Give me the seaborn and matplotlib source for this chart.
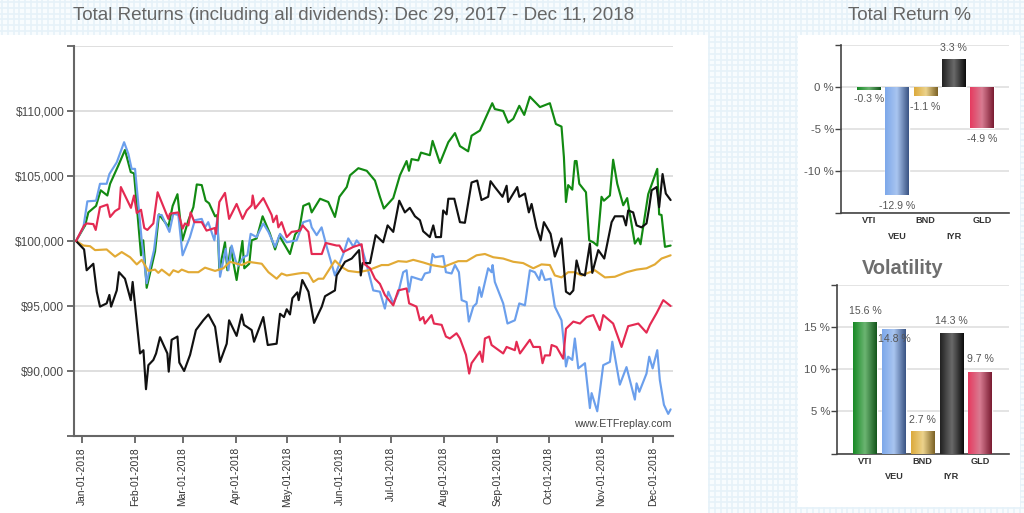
import numpy as np
import pandas as pd
import matplotlib
matplotlib.use('Agg')
import matplotlib.pyplot as plt
import matplotlib.dates as mdates
from matplotlib.colors import LinearSegmentedColormap
from matplotlib.patches import Rectangle
import seaborn as sns

# days since Jan 1 2018, values in $ thousands
vti_days = [-3.3,2,3.9,8.4,11.1,15,16.6,21.4,25.3,28.7,30.6,34.7,36,38,42.9,45.2,50.7,53.2,56,58.9,62.4,65.3,67.3,70.2,72.5,74.5,78,79.3,80.5,83.8,85.2,87.1,90.6,94,95.1,98,99.4,102.3,105.8,110,113.1,115.6,121.8,124.8,127.3,129.6,133,134.5,139.4,144.2,148.1,150.7,155,156.9,161.8,166.7,171.5,174.4,176.7,182.2,186.1,190,191.4,192.9,196.8,198.4,203.6,205.2,209.5,214.4,218.3,221.2,226,228,232.9,237.7,240.1,241.6,246.5,249.4,252.4,255.9,258.8,262.1,268,273.8,277.3,280.6,282,283.2,284.5,286.9,288.4,289.4,291,294.9,296.8,299.2,301.5,304,305.4,308.9,310.8,313.2,316.7,319,323.5,325.5,326.8,331.3,336.6,337.7,339.1,341.1,344.4]
vti_vals = [100,101.2,102.2,102.7,103.9,103.5,104.4,105.8,107,105.3,105.2,98.9,100.05,96.4,99.2,102.05,101.1,102.7,103.6,100.05,101.6,102.6,104.35,104.3,103.1,102.9,101.9,102,97.75,99.9,97.75,99.5,97,100,97.9,98.25,100.05,100.2,101.9,100.6,99.35,100.4,99,100.5,100.9,102.7,102.9,102.2,103.25,103,101.85,103.4,104.15,105.05,105.6,105.4,104.65,103.4,102.5,103.3,105.05,106.15,105.4,106.3,106.2,106.8,106.6,107.7,106,107.6,108.3,107.3,106.9,108.1,108.5,109.9,110.6,110.15,110,109.1,109.4,110.4,109.7,111.1,110.3,110.6,109,108.8,106.45,103,104.3,103.95,106.15,106.15,104.4,103.75,100.05,99.9,99.65,103.4,103.1,103.5,106.25,104.4,102.75,103.3,99.8,100.2,99.75,103.6,105.55,102.05,102,99.55,99.65]

veu_days = [-3.3,1,3.3,8.4,10.7,14.6,16.2,20.5,23,24.8,27.3,29.2,31.2,35.1,38,40,42.3,44.8,46.8,51.3,53.6,56.5,59,63.3,66.2,70.2,72.1,74,77.6,79.3,80.9,84.2,85.8,87.7,90,91.6,94.5,96.9,98.8,102.3,106.2,109.2,113.1,116,119.9,125.7,129.6,133.5,134.5,137.4,140.3,143.3,148.1,153,155.9,158.9,160.8,163.7,166.7,170.5,174.4,177.3,179.3,182.2,185.1,188,190,191.4,192.9,198.8,200.7,203.6,205.2,206.6,211.4,213,216.3,218.3,220.6,222.2,225.1,226.4,229,230.9,232.5,233.8,237.7,239.7,240.3,241.6,246.5,249,253.3,255.9,259.2,262.1,265,267.6,268.9,270.9,274.2,276.7,280.6,282,283.2,284.5,286.9,288.4,290.4,294.3,297.2,298.2,301.5,305,308.9,310.3,314.7,318.6,323.5,324.5,326.1,330.3,331.9,333.9,336.6,338.1,340.5,343,344.4]
veu_vals = [100,101.05,103.05,103.1,104.4,104.4,105.15,106.05,106.95,107.6,106.7,105.55,105.55,100.05,96.75,98,99.3,102,102,100.7,102.1,102,98.9,100.3,101.6,101.7,101.05,101.45,100.05,101.7,97.25,99.4,97.75,99.65,98.5,98.1,98.75,98.9,100.55,100.3,101.35,100.7,99.55,100.55,99.9,100.05,101.45,101.6,101.05,100.45,101.05,99.55,97.35,99,100.2,99.55,100.05,99.55,98.15,96.2,96.1,94.8,96.1,95.2,96,97.6,97.75,96.1,97.25,97,97.5,97.6,99,98.75,98.85,97.6,97.5,98.15,97.6,95.45,95.3,93.8,94.95,95.2,96.45,95.7,97.9,97.6,98.15,96.85,95.2,93.65,93.9,95.2,95.05,97.75,97.6,97,97.75,97,97.1,94.95,93.9,92.1,90.35,91.1,90.85,92.5,90.2,90.6,87.15,88.3,86.9,90.45,90.7,92.25,88.95,90.3,87.8,89.05,88.4,89.8,91.1,90.2,91.6,89.3,87.4,86.7,87.05]

bnd_days = [-3.3,1,4.9,7.8,14.6,19.5,23.4,28.3,32.2,35.1,39,42.9,44.8,46.8,51.3,53.6,56.5,58.5,62.4,68.2,72.1,78,82.8,86.7,93.6,97.5,105.3,109.2,114,116.9,119.9,126.7,129.6,132.6,135.5,138.4,141.3,148.1,152,155.9,161.8,167.6,175.4,179.3,185.1,190,193.9,199.7,204.6,211.4,220.2,225.1,230.9,235.8,240.7,246.5,252.4,258.2,264.1,268.9,273.8,276.7,280.6,284.5,288.4,292.3,300.1,306,311.8,318.6,324.5,330.3,335.2,339.1,344.4]
bnd_vals = [100,99.65,99.6,99.3,99.35,98.8,99.15,98.75,98.2,98.55,97.7,97.8,97.55,97.8,97.35,97.75,97.6,97.8,97.6,97.6,97.95,97.7,97.9,98.4,98.15,98.4,98.25,97.6,97.1,97.5,97.35,97.5,97.55,97.5,96.85,97.1,97.1,98.5,98,97.7,97.6,97.75,98.15,98.15,98.45,98.4,98.55,98.35,98.15,98,98.45,98.45,98.9,99,98.75,98.65,98.4,98.3,97.9,98.2,98.15,97.35,97.2,97.6,97.6,97.35,97.75,97.2,97.25,97.6,97.8,97.9,98.2,98.65,98.9]

iyr_days = [-3.3,1.4,2.9,6.8,8.8,10.7,14.6,16.2,17.2,20.5,21.8,25.3,28.7,29.8,34.1,36.1,37.6,39,41.9,43.5,45.8,50.1,50.9,52.6,56,57.1,59.9,63.4,66.8,71.1,74.1,78,80.9,84.8,86.2,90.6,93.6,94.9,99.4,100.8,106.2,108.8,114,116,118.3,119.9,121.8,123.2,126.1,126.9,129,132.6,135.9,140.4,142.3,148.1,149.1,154,157.9,162.2,163.2,164.3,168.6,171.9,176.3,178.9,182.2,185.7,189,191.9,194.9,197.8,199.7,203.6,205.6,207.1,210.1,211.4,213.4,214.4,217.9,221.2,224.1,228,231.3,233.8,237.7,239.1,241.6,246.1,248.5,249.4,252.4,254.7,255.9,259.2,261.5,263.1,266,268.4,270.3,274.2,276.7,280.6,283.2,285.5,287.5,289.4,291.4,294.3,297.2,298.6,302.1,305.6,309.9,311.8,316.7,318.3,319.6,322.5,324.5,327.4,330.3,331.9,333.3,336.2,337.7,339.7,341.6,344.4]
iyr_vals = [100,99.35,97.75,98.25,96.1,94.95,95.2,95.85,94.95,96.2,97.6,97.1,95.45,96.85,91.35,91.6,88.6,90.45,90.85,91.35,92.6,91.35,89.95,92.4,92.65,90.65,90,91.25,93.15,93.9,94.35,93.4,90.7,92.1,93.9,92.7,94.35,93.55,93.15,92.25,94.15,92,92.1,94.4,94.15,94.75,94.35,95.6,96.05,95.45,97,96.1,93.7,94.95,95.75,96.2,97.35,98.4,98.65,99.3,97.35,98.3,98.3,100.45,99.9,101.2,100.7,103.1,102.2,102.55,101.9,101.6,100.75,100.3,101.2,100.3,100.3,102.35,102.05,103.25,103.25,101.45,101.4,104.5,104.65,103.15,103.4,104.6,104.15,103.4,104.25,103,103.65,104.15,103.4,103.65,102.2,102.85,101.05,100.05,101.45,100.55,98.8,100.2,96.1,95.9,96.2,98.5,97.5,97.35,99.8,97.55,99.3,98.65,101.45,101.9,101.9,101.2,102.35,102.2,101.2,101.05,101.35,102.6,103.9,104.15,102.6,105.15,103.65,103.15]

gld_days = [-3.3,1.4,2.9,6.8,8.2,10.7,15,16.6,19.5,22,22.9,25.3,28.8,30.6,32.2,34.7,36.6,38.4,41.9,44.4,50.7,51.6,56.5,59,60.4,62.4,63.7,65.9,70.2,73,77.9,78.5,80.5,83.8,86.2,90.6,94.1,96.5,99.4,100,101.4,106.2,111.1,112,114,115,116.9,119.9,122.8,127.7,129.2,132.6,134.5,140.4,142.7,149.1,150.7,153,158.9,163.7,165.1,168.6,171.5,174.4,177.3,182.2,185.1,190,191.5,195.8,197.8,199.7,200.7,204.6,206,210.5,213,215.3,219.2,221.2,224.7,226.6,228,232.9,234.4,235.8,238.3,239.7,246.5,248.5,253.3,254.3,256.3,262.1,264.1,268,269.5,270.9,273.8,274.8,277.7,281.6,283.2,287.5,291.4,295.3,299.2,303,305,310.8,315.7,319.6,325.5,330.3,332.3,336.2,340.1,344.4]
gld_vals = [100,101.2,101.35,101.3,100.85,102.6,102.8,101.85,102.3,102.5,104.15,103.5,102.55,103.5,102.15,102.4,101,100.85,101.35,103.75,101.7,102.1,102.2,100.95,101.35,101.2,102.2,101.45,101.45,100.8,101,100.55,103,103.7,101.7,102.85,101.7,102.35,102.75,103.5,102.5,103.3,102,101.45,101.95,101.05,101.45,100.3,100.7,100.8,101.2,100.7,99,99,99.85,99.65,99.65,99.15,99.55,99.75,98.25,97.9,97.1,96.7,95.85,95.05,96.2,96.35,95.2,94.95,93.9,94.15,93.65,94.3,93.65,93.55,92.65,92.5,92.9,92.5,91.25,89.8,90.6,91.5,90.7,92.5,92.65,92,91.35,91.85,91.6,92.25,91.35,92.4,91.85,91.85,90.6,91.2,91.2,92,91.85,90.95,93.25,93.8,93.65,94.15,94.3,93.15,94.3,93.65,91.85,93.45,93.65,92.95,93.55,94.45,95.45,95]

tickers = ['VTI', 'VEU', 'BND', 'IYR', 'GLD']
total_return = [-0.3, -12.9, -1.1, 3.3, -4.9]
volatility = [15.6, 14.8, 2.7, 14.3, 9.7]
month_ticks = ['2018-%02d-01' % m for m in range(1, 13)]

line_colors = {'VTI': '#128a12', 'VEU': '#6b9fec', 'BND': '#e2aa35', 'IYR': '#111111', 'GLD': '#e42a52'}
bar_stops = {
    'VTI': ['#178a25', '#6cb572', '#14561c'],
    'VEU': ['#7da8ea', '#a9c5f0', '#3a5484'],
    'BND': ['#dcaa3c', '#ecd38c', '#7c6226'],
    'IYR': ['#222222', '#6a6a6a', '#0c0c0c'],
    'GLD': ['#e63b60', '#d87c92', '#7a1c32'],
}

W, H = 1024, 513

sns.set_theme(style='white')
plt.rcParams['font.family'] = ['Liberation Sans', 'DejaVu Sans']

fig = plt.figure(figsize=(W / 100, H / 100), dpi=100, facecolor='white')


def px_axes(left, top, right, bottom):
    return fig.add_axes([left / W, 1 - bottom / H, (right - left) / W, (bottom - top) / H])


# page background: pale grid paper with white panels
bg = fig.add_axes([0, 0, 1, 1], zorder=-5)
bg.set_xlim(0, W)
bg.set_ylim(H, 0)
bg.axis('off')
bg.add_patch(Rectangle((0, 0), W, H, fc='#f8fcfe', ec='none'))
for v in np.arange(2, W, 5.75):
    bg.axvline(v, color='#e6f2f9', lw=1.2)
for v in np.arange(2, H, 5.75):
    bg.axhline(v, color='#e6f2f9', lw=1.2)
bg.add_patch(Rectangle((0, 35), 708, H - 35, fc='white', ec='none', zorder=3))
bg.add_patch(Rectangle((798, 35), 222, 472, fc='white', ec='none', zorder=3))

# main line chart
frames = []
for name, days, vals in [('VTI', vti_days, vti_vals), ('VEU', veu_days, veu_vals),
                         ('BND', bnd_days, bnd_vals), ('IYR', iyr_days, iyr_vals),
                         ('GLD', gld_days, gld_vals)]:
    frames.append(pd.DataFrame({'fund': name,
                                'date': pd.Timestamp('2018-01-01') + pd.to_timedelta(days, unit='D'),
                                'value': np.array(vals) * 1000}))
df = pd.concat(frames)

ax = px_axes(74, 46, 673, 436)
ax.patch.set_alpha(0)
sns.lineplot(data=df, x='date', y='value', hue='fund', palette=line_colors, estimator=None,
             sort=False, legend=False, lw=1.55, ax=ax)
ax.set_xlim(pd.Timestamp('2018-01-01') - pd.Timedelta(days=4.5),
            pd.Timestamp('2018-01-01') + pd.Timedelta(days=345.8))
ax.set_ylim(85000, 115000)
yt = np.arange(85000, 115001, 5000)
ax.set_yticks(yt)
ax.set_yticklabels(['' if v in (85000, 115000) else '${:,}'.format(v) for v in yt],
                   fontsize=8.6, color='#4a4a4a')
ax.set_xticks(pd.to_datetime(month_ticks))
ax.xaxis.set_major_formatter(mdates.DateFormatter('%b-%d-%Y'))
ax.tick_params(axis='x', rotation=90, labelsize=7.4, labelcolor='#333333', length=5, width=1.2,
               color='#555555', pad=3, bottom=True)
ax.tick_params(axis='y', length=5, width=1.2, color='#555555', pad=2, left=True)
ax.set_xlabel('')
ax.set_ylabel('')
ax.grid(axis='y', color='#d9d9d9', lw=1.2)
ax.set_axisbelow(True)
sns.despine(ax=ax, top=True, right=True)
for s in ['left', 'bottom']:
    ax.spines[s].set_color('#666666')
    ax.spines[s].set_linewidth(1.5)
ax.text(0.9975, 0.018, 'www.ETFreplay.com', transform=ax.transAxes, ha='right', va='bottom',
        fontsize=7.7, color='#444444')

fig.text(354 / W, 1 - 16 / H, 'Total Returns (including all dividends): Dec 29, 2017 - Dec 11, 2018',
         ha='center', va='center', fontsize=13.6, color='#666666')
fig.text(909 / W, 1 - 16 / H, 'Total Return %', ha='center', va='center', fontsize=13.6, color='#666666')
fig.text(903 / W, 1 - 269 / H, 'Volatility', ha='center', va='center', fontsize=14.4,
         fontweight='bold', color='#6e6e6e')


def bar_panel(rect, values, ylim, yticks, xlim, offsets):
    axb = px_axes(*rect)
    axb.patch.set_alpha(0)
    sns.barplot(x=tickers, y=values, hue=tickers, palette=line_colors, legend=False, width=0.83,
                ax=axb)
    axb.set_xlim(*xlim)
    axb.set_ylim(*ylim)
    axb.set_yticks(yticks)
    axb.set_yticklabels(['' if v in ylim else '%d %%' % v for v in yticks], fontsize=8.2,
                        color='#555555')
    axb.tick_params(axis='y', length=4, width=1, color='#444444', pad=1, left=True)
    axb.tick_params(axis='x', length=0, labelsize=6.6, labelcolor='#333333', pad=3)
    for lab in axb.get_xticklabels():
        lab.set_fontweight('bold')
    for i, tk in enumerate(axb.xaxis.get_major_ticks()):
        tk.set_pad(13.5 if i % 2 else 2.5)
    axb.grid(axis='y', color='#dddddd', lw=1.1)
    axb.set_axisbelow(True)
    sns.despine(ax=axb, top=True, right=True)
    for s in ['left', 'bottom']:
        axb.spines[s].set_color('#444444')
        axb.spines[s].set_linewidth(1.2)
    # bars come from seaborn, gradient is painted over each one
    for name, val, patch, off in zip(tickers, values, axb.patches, offsets):
        cmap = LinearSegmentedColormap.from_list(name, bar_stops[name])
        x0, w = patch.get_x(), patch.get_width()
        im = axb.imshow(np.linspace(0, 1, 64).reshape(1, -1), cmap=cmap, aspect='auto', zorder=3,
                        extent=(x0, x0 + w, min(0, val), max(0, val)))
        im.set_clip_path(patch)
        axb.annotate('%.1f %%' % val, (x0 + w / 2, val), xytext=(0, off), textcoords='offset points',
                     ha='center', va='center', fontsize=7.6, color='#555555', zorder=5)
    axb.set_xlim(*xlim)
    axb.set_ylim(*ylim)
    return axb


bar_panel((841, 45, 1009, 213), total_return, (-15, 5), [-15, -10, -5, 0, 5], (-0.98, 4.95),
          [-7, -8, -8, 8, -8])
bar_panel((837, 285, 1009, 453.5), volatility, (0, 20), [0, 5, 10, 15, 20], (-0.98, 5.0),
          [8, -7, 8, 9, 9])

fig.savefig('out.png', dpi=100)
